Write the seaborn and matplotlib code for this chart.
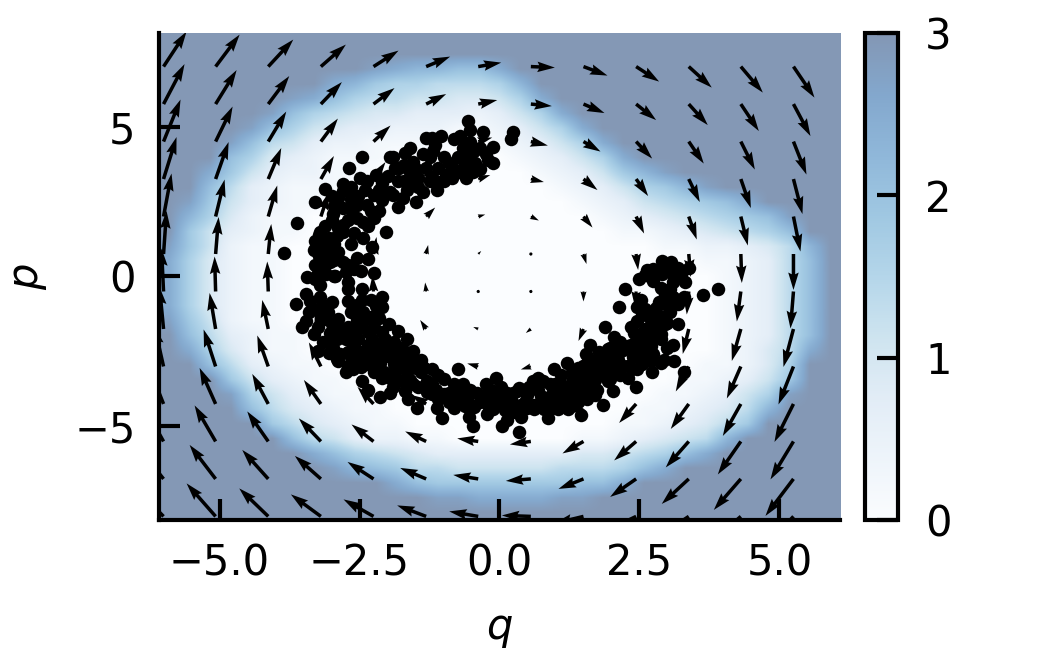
import matplotlib
matplotlib.use("Agg")
import matplotlib.pyplot as plt
import numpy as np
import seaborn as sns

# Heat field: hex digit d stands for the value d * 0.23, capped at 3
field_rows = [
    "f" * 33,
    "f" * 14 + "ee" + "f" * 17,
    "f" * 10 + "cbaa99b" + "f" * 16,
    "f" * 8 + "ba8776667a" + "f" * 15,
    "f" * 6 + "cb9766554457b" + "f" * 14,
    "f" * 5 + "c9765443332357b" + "f" * 13,
    "f" * 4 + "c975433222112357b" + "f" * 12,
    "f" * 3 + "c965322111100 12357b".replace(" ", "") + "f" * 11,
    "f" * 2 + "e97432111000000 12357b".replace(" ", "") + "f" * 10,
    "f" * 2 + "b8532211" + "0" * 8 + "12358ac" + "f" * 8,
    "fe9632111" + "0" * 10 + "123578ace" + "f" * 5,
    "fc853211" + "0" * 12 + "12356789be" + "f" * 3,
    "fa74211" + "0" * 14 + "123456789c" + "ff",
    "e853211" + "0" * 15 + "112345679ef",
    "c85211" + "0" * 18 + "112234 6af".replace(" ", ""),
    "b74211" + "0" * 20 + "112369e",
    "b74211" + "0" * 21 + "12369d",
    "b74211" + "0" * 21 + "12369d",
    "b74211" + "0" * 21 + "12369d",
    "c85211" + "0" * 21 + "12369e",
    "f963211" + "0" * 20 + "12369f",
    "fb74211" + "0" * 20 + "1246bf",
    "ff963211" + "0" * 18 + "11247ef",
    "ffe853211" + "0" * 16 + "112358ff",
    "fffc753211" + "0" * 14 + "112357cff",
    "ffff" + "9643211" + "0" * 12 + "112346a" + "fff",
    "ffff" + "e8643211" + "0" * 10 + "1123468e" + "fff",
    "f" * 6 + "96532211" + "0" * 6 + "1123456a" + "f" * 5,
    "f" * 7 + "b976543333333445679b" + "f" * 6,
    "f" * 8 + "ca986655555666" + "79be" + "f" * 7,
    "f" * 10 + "eb98888888" + "99be" + "f" * 9,
    "f" * 13 + "ccbbbbcce" + "f" * 11,
    "f" * 33,
]
field = np.array([[min(3.0, int(c, 16) * 0.23) for c in row] for row in field_rows])

# Flow arrows, one row per p value from top to bottom
arrow_q = [-6.0, -5.07, -4.13, -3.19, -2.25, -1.31, -0.38, 0.56, 1.5, 2.44, 3.38, 4.31, 5.25]
arrow_p = [7.0, 5.75, 4.5, 3.25, 2.0, 0.75, -0.5, -1.75, -3.0, -4.25, -5.5, -6.75, -8.0]
arrow_u = [
    [23, 24, 25, 25, 25, 24, 23, 24, 24, 23, 23, 22, 21],
    [21, 21, 21, 21, 21, 20, 19, 21, 21, 20, 19, 18, 17],
    [17, 17, 18, 17, 17, 16, 14, 17, 17, 16, 15, 14, 13],
    [13, 13, 13, 13, 12, 11, 12, 13, 14, 12, 11, 10, 9],
    [8, 9, 9, 8, 8, 9, 7, 8, 9, 8, 8, 7, 7],
    [3, 3, 3, 3, 3, 2, 3, 2, 3, 2, 2, 1, 0],
    [-2, -1, -1, -2, -1, -1, -1, -1, 0, -1, -2, -4, -3],
    [-4, -6, -6, -6, -5, -6, -5, -5, -5, -5, -6, -9, -10],
    [-9, -12, -11, -12, -11, -10, -11, -10, -11, -12, -13, -14, -15],
    [-15, -16, -16, -17, -16, -15, -15, -15, -16, -17, -18, -18, -19],
    [-20, -21, -21, -22, -22, -21, -21, -21, -21, -22, -23, -23, -23],
    [-26, -26, -26, -26, -26, -26, -25, -25, -25, -26, -27, -27, -28],
    [-30, -29, -29, -30, -30, -29, -29, -29, -29, -29, -30, -30, -30],
]
arrow_v = [
    [35, 32, 27, 22, 16, 10, 4, -1, -9, -15, -21, -26, -31],
    [40, 34, 28, 22, 16, 10, 4, -2, -9, -16, -21, -27, -32],
    [42, 35, 30, 23, 16, 10, 4, -4, -10, -17, -22, -28, -33],
    [42, 37, 31, 23, 17, 10, 4, -3, -11, -17, -23, -29, -35],
    [43, 37, 31, 24, 17, 9, 2, -4, -11, -17, -23, -29, -35],
    [43, 37, 30, 24, 17, 9, 3, -2, -10, -16, -23, -29, -36],
    [43, 35, 30, 23, 16, 9, 1, -3, -10, -16, -23, -30, -37],
    [42, 36, 29, 22, 16, 9, 2, -4, -12, -16, -25, -32, -38],
    [40, 37, 31, 24, 17, 10, 3, -3, -11, -18, -25, -32, -38],
    [38, 36, 30, 24, 17, 9, 3, -4, -11, -19, -25, -32, -38],
    [36, 36, 30, 23, 17, 10, 3, -3, -12, -19, -26, -33, -38],
    [33, 34, 29, 23, 17, 11, 4, -2, -10, -18, -25, -31, -37],
    [31, 33, 28, 22, 17, 11, 5, 1, -7, -14, -20, -26, -32],
]

# Sample points, outline and interior of the crescent, as (q, p) pairs split by arc
upper_arc = [
    (-.57, 5.2), (-.52, 4.9), (-.30, 4.83), (.25, 4.83), (.20, 4.6), (-1.32, 4.63), (-1.05, 4.67), (-1.20, 4.63),
    (-.82, 4.57), (-.70, 4.67), (-.12, 4.33), (-.52, 4.47), (-.12, 3.8), (-.25, 4.07), (-1.11, 2.9), (-1.59, 4.3),
    (-1.68, 4.13), (-1.91, 3.97), (-.34, 3.57), (-.48, 3.47), (-.73, 3.47), (-.96, 3.4), (-1.2, 3.33), (-1.36, 2.83),
    (-1.45, 2.97), (-1.59, 3.5), (-1.82, 3.17), (-1.5, 2.5), (-1.73, 2.63), (-1.91, 2.73), (-1.36, 4.07), (-1.18, 4.17),
    (-1.0, 3.97), (-.75, 3.97), (-.61, 4.07), (-.46, 4.17), (-.34, 4.3), (-.43, 3.8), (-.61, 3.73), (-.84, 3.67),
    (-1.09, 3.63), (-1.32, 3.63), (-1.54, 3.83), (-1.71, 3.73), (-1.86, 3.63), (-1.64, 3.23), (-1.45, 3.3),
    (-1.15, 4.4), (-.65, 4.3), (-1.25, 4.0), (-.9, 3.8), (-.55, 3.85), (-.2, 3.9), (-1.5, 3.6), (-1.25, 3.2),
    (-1.0, 3.2), (-.6, 3.3), (-.85, 3.3), (-1.1, 3.15), (-1.65, 2.9), (-1.55, 3.1),
]
left_arc = [
    (-2.45, 3.97), (-2.68, 3.63), (-3.11, 2.93), (-3.29, 2.5), (-3.61, 1.8), (-3.84, .77), (-2.02, 1.47), (-2.79, 3.07),
    (-2.36, 3.17), (-1.95, 4.0), (-2.09, 3.13), (-1.82, 2.33), (-2.98, 2.07), (-2.63, 2.23), (-2.16, 2.17), (-2.43, 1.83),
    (-2.34, 1.67), (-2.27, 1.0), (-2.34, .57), (-2.25, .13), (-2.48, .17), (-2.66, 1.07), (-2.54, .63), (-3.2, 1.47),
    (-3.11, 1.67), (-2.79, 1.73), (-3.32, .9), (-3.23, .67), (-3.05, 1.3), (-2.89, .83), (-2.71, .4), (-3.11, .4),
    (-3.43, -.03), (-3.25, .13), (-2.96, 0), (-2.66, 2.97), (-2.52, 2.67), (-2.89, 2.63), (-2.25, 2.73), (-1.95, 2.83),
    (-1.71, 3.17), (-1.8, 3.63), (-1.59, 3.73), (-2.36, 2.4), (-2.43, 1.3), (-2.79, 1.5), (-2.89, 1.63),
    (-3.64, -.93), (-3.52, -1.67), (-3.32, -1.93), (-2.09, -.67), (-2.09, -1.03), (-2.3, -.77), (-2.45, -.43),
    (-2.45, -.77), (-3.23, 1.4), (-3.02, 1.23), (-3.14, .9), (-3.02, .47), (-2.79, .47), (-2.93, 0), (-2.7, -.17),
    (-2.71, -.43), (-3.38, -.83), (-3.2, -.7), (-3.25, -1.1), (-2.71, -.83), (-3.07, -1.17), (-3.14, -1.43),
    (-2.89, -1.43), (-2.66, -1.2), (-2.43, -1.2), (-2.25, -1.67), (-2.48, -1.67), (-2.71, -1.67), (-3.02, -1.87),
    (-3.16, -2.2), (-3.25, -2.5), (-2.98, -2.37), (-2.75, -2.1), (-2.52, -2.1), (-2.27, -2.1), (-2.71, -2.53),
    (-2.48, -2.53), (-2.25, -2.53), (-1.98, -1.6), (-1.82, -1.83), (-1.89, -2.17), (-1.66, -2.1), (-2.07, -2.5),
    (-1.82, -2.67), (-1.54, -2.5), (-2.88, -2.83), (-2.61, -2.87), (-2.36, -2.93), (-2.13, -2.87), (-1.89, -2.93),
    (-1.64, -2.87), (-2.39, -1.43),
    (-2.0, 3.35), (-2.2, 3.4), (-2.15, 2.9), (-2.5, 3.3), (-2.4, 2.9), (-2.65, 2.6), (-2.1, 2.55), (-2.3, 2.2),
    (-2.7, 1.9), (-2.95, 2.35), (-2.55, 1.95), (-2.6, 1.45), (-3.0, 1.9), (-2.95, 1.1), (-3.0, .8), (-2.6, .25),
    (-2.75, .15), (-3.15, .65), (-3.3, .4), (-3.1, .1), (-3.2, -.3), (-3.4, -1.2), (-3.45, -1.5), (-3.15, -.95),
    (-2.85, -1.75), (-2.55, -1.45), (-2.3, -1.35), (-2.2, -1.0), (-2.15, -1.4), (-2.1, -1.85), (-2.35, -1.85),
    (-2.6, -1.9), (-2.9, -2.1), (-3.05, -2.55), (-2.85, -2.6), (-2.6, -2.3), (-2.35, -2.3), (-2.15, -2.25),
    (-1.95, -2.3), (-2.7, -3.0), (-2.2, -2.7), (-2.0, -2.65), (-1.75, -2.4), (-1.6, -2.75),
    (-2.8, 2.85), (-3.0, 2.7), (-2.55, 2.4), (-2.8, 2.3), (-2.25, 1.95), (-2.1, 2.9), (-2.9, 1.35), (-3.3, 1.2),
    (-2.95, .55), (-3.3, -.1), (-3.45, -.6), (-3.0, -.85), (-3.25, -1.7), (-3.0, -1.6), (-2.55, -.95), (-2.9, -2.75),
    (-3.05, -2.2), (-2.4, -2.75), (-2.05, -2.1), (-1.7, -2.65), (-1.95, -2.55), (-2.1, -3.4), (-1.8, -3.0),
    (-1.95, -3.4), (-1.6, -3.45),
]
lower_arc = [
    (-.75, -3.07), (-.07, -3.37), (-2.75, -3.2), (-2.45, -3.47), (-2.34, -3.8), (-2.13, -4.03), (-1.48, -4.37),
    (-1.11, -4.37), (-1.02, -4.73), (-.55, -4.7), (-.48, -5.0), (-.23, -4.57), (.04, -5.0), (.34, -5.17), (-.82, -4.37),
    (-.61, -4.33), (-2.66, -2.7), (-2.48, -3.03), (-2.25, -3.2), (-2.3, -2.77), (-2.07, -3.17), (-1.86, -3.2),
    (-1.91, -3.67), (-1.68, -3.83), (-1.41, -3.2), (-1.29, -3.5), (-1.45, -3.7), (-1.2, -3.93), (-1.0, -3.43),
    (-.82, -3.6), (-1.0, -3.93), (-.79, -4.03), (-.52, -3.77), (-.57, -4.0), (-.34, -4.17), (-.16, -3.77), (-.02, -4.17),
    (.14, -3.87), (.2, -4.43), (-.11, -4.43), (.32, -3.83), (.38, -4.27), (-2.07, -2.43), (-1.89, -2.43), (-1.71, -2.7),
    (-1.36, -3.03), (-1.14, -3.77), (-2.61, -3.1), (-2.48, -2.7), (-1.41, -2.77), (-1.2, -3.1), (-1.63, -4.1), (-1.95, -3.87),
    (-1.5, -3.05), (-1.65, -3.2), (-1.75, -3.5), (-1.55, -3.6), (-1.2, -3.6), (-1.1, -3.3), (-.9, -3.9), (-.75, -3.75),
    (-.65, -3.6), (-.4, -3.9), (-.25, -3.6), (-.1, -4.0), (-.7, -4.2), (-.45, -4.35), (-.2, -4.3), (.05, -3.9), (.25, -3.9),
    (.1, -4.45), (.5, -3.95), (.75, -4.0), (.6, -3.5),
    (1.61, -2.3), (1.2, -2.87), (.98, -3.07), (.68, -3.37), (.34, -3.73), (.02, -3.7), (.88, -4.03), (.86, -4.73),
    (1.46, -4.63), (1.84, -4.27), (2.43, -3.67), (2.02, -3.83), (.38, -4.7), (.14, -4.77), (3.11, -2.83), (3.09, -2.27),
    (3.0, -2.37), (2.73, -3.17), (2.3, -3.37), (2.16, -3.27), (1.93, -3.5), (.52, -3.7), (.68, -3.77), (.61, -4.27),
    (.46, -4.17), (.23, -4.17), (.07, -4.2), (.25, -4.53), (1.09, -3.6), (1.32, -3.43), (1.5, -3.0), (1.57, -2.87),
    (1.3, -3.93), (1.57, -3.53), (1.05, -4.43), (1.23, -4.43), (1.57, -4.1), (1.75, -3.77), (1.77, -3.2), (1.77, -2.53),
    (1.98, -3.0), (1.93, -2.43), (2.11, -2.77), (2.29, -3.0), (2.04, -2.03), (2.29, -2.33), (2.52, -2.77), (2.7, -2.83),
    (2.88, -2.87), (2.46, -2.2), (2.7, -2.33), (2.88, -2.1), (.91, -4.43), (.77, -3.5), (.79, -4.43), (1.04, -3.93),
    (1.14, -4.03), (1.41, -4.17), (1.98, -3.43), (1.41, -3.7), (1.0, -3.6), (.61, -4.43),
    (.95, -3.75), (1.15, -3.8), (1.3, -3.6), (1.45, -3.35), (1.7, -3.45), (1.65, -3.0), (1.85, -2.8), (1.35, -4.0),
    (1.2, -4.2), (1.0, -4.2), (1.5, -3.85), (1.7, -3.95), (2.05, -2.75), (2.2, -3.0), (2.45, -3.1), (2.2, -2.45),
    (2.45, -2.45), (2.6, -2.6), (2.75, -2.6),
    (-1.3, -3.85), (-1.1, -4.1), (-.9, -4.2), (-.65, -3.95), (-.3, -4.0), (.15, -4.0), (.3, -4.4), (.5, -4.4),
    (.75, -4.25), (.9, -3.6), (1.1, -3.3), (1.3, -3.2), (1.4, -3.05), (1.6, -3.25), (1.85, -3.25), (1.6, -3.7),
    (2.0, -3.05), (1.55, -2.6), (1.7, -2.8),
]
right_arc = [
    (2.91, .53), (3.07, .47), (2.63, .23), (3.38, .3), (2.5, -.1), (2.25, -.43), (2.13, -1.03), (1.89, -1.7), (2.34, -1.67),
    (3.64, -.63), (3.91, -.43), (3.32, -.2), (3.29, -.67), (3.18, -1.6), (3.29, -3.17), (3.18, .3), (2.7, -.03), (2.91, .07),
    (3.11, -.03), (2.88, -.37), (3.05, -.43), (2.93, -.87), (3.18, -.93), (2.7, -1.27), (2.96, -1.33), (2.46, -1.03),
    (2.52, -.77), (2.82, -1.67), (2.52, -1.93), (2.16, -2.17), (1.98, -2.37), (2.34, -2.27), (2.64, -2.27), (1.84, -2.6),
    (2.11, -2.6), (2.39, -2.7), (2.93, -2.77), (1.86, -3.03), (2.04, -3.17), (2.55, -2.93), (2.88, -1.93), (2.96, -1.6),
    (2.6, -1.75), (2.7, -2.0), (2.45, -1.5), (2.75, -1.55), (2.85, -1.35), (3.05, -1.2), (2.8, -1.05), (2.95, -.6),
    (3.1, -.7), (2.55, -1.3), (3.05, .2), (2.75, .25), (2.95, .3), (3.25, .05),
    (2.4, -1.9), (2.6, -1.1), (2.85, -.85), (3.05, -.95), (3.1, -.2), (3.2, .1), (2.6, .05), (2.75, -.15),
    (3.0, -1.55), (2.7, -1.45), (2.5, -2.1),
]
sample_q = [pt[0] for arc in (upper_arc, left_arc, lower_arc, right_arc) for pt in arc]
sample_p = [pt[1] for arc in (upper_arc, left_arc, lower_arc, right_arc) for pt in arc]

q_ticks = [-5.0, -2.5, 0.0, 2.5, 5.0]
p_ticks = [-5, 0, 5]
bar_ticks = [0, 1, 2, 3]

sns.set_theme(style="ticks", rc={"font.family": "DejaVu Sans", "font.size": 10})
fig = plt.figure(figsize=(3.5, 650 / 300), dpi=300)
ax = fig.add_axes([158.5 / 1050, 130 / 650, 682 / 1050, 487 / 650])
cax = fig.add_axes([865 / 1050, 130 / 650, 33 / 1050, 487 / 650])

im = ax.imshow(field, cmap="Blues", vmin=0, vmax=3, alpha=0.5, aspect="auto",
               extent=[-6.09, 6.09, -8.12, 8.12], interpolation="bilinear", zorder=1)

Q, P = np.meshgrid(arrow_q, arrow_p)
ax.quiver(Q, P, np.array(arrow_u), np.array(arrow_v), angles="uv", scale_units="dots", scale=1,
          units="dots", width=3.5, color="black", zorder=2)

sns.scatterplot(x=sample_q, y=sample_p, s=10.5, color="black", linewidth=0, ax=ax, zorder=3, legend=False)

ax.set_xlim(-6.09, 6.09)
ax.set_ylim(-8.12, 8.12)
ax.set_xticks(q_ticks)
ax.set_xticklabels(["\u22125.0", "\u22122.5", "0.0", "2.5", "5.0"])
ax.set_yticks(p_ticks)
ax.set_yticklabels(["\u22125", "0", "5"])
ax.set_axisbelow(False)
ax.tick_params(direction="in", length=5, width=1, labelsize=10, pad=5.5, colors="black")
ax.set_xlabel("$q$", fontsize=10, labelpad=5.5, color="black")
ax.set_ylabel("$p$", fontsize=10, labelpad=6, color="black")
sns.despine(ax=ax)
for side in ("left", "bottom"):
    ax.spines[side].set_linewidth(1)
    ax.spines[side].set_color("black")
    ax.spines[side].set_zorder(5)

cb = fig.colorbar(im, cax=cax)
cb.set_ticks(bar_ticks)
cb.ax.set_axisbelow(False)
cb.ax.tick_params(direction="in", length=5, width=1, labelsize=10, pad=6.5, colors="black")
cb.outline.set_linewidth(1)
cb.outline.set_edgecolor("black")

fig.savefig("out.png", dpi=300)
